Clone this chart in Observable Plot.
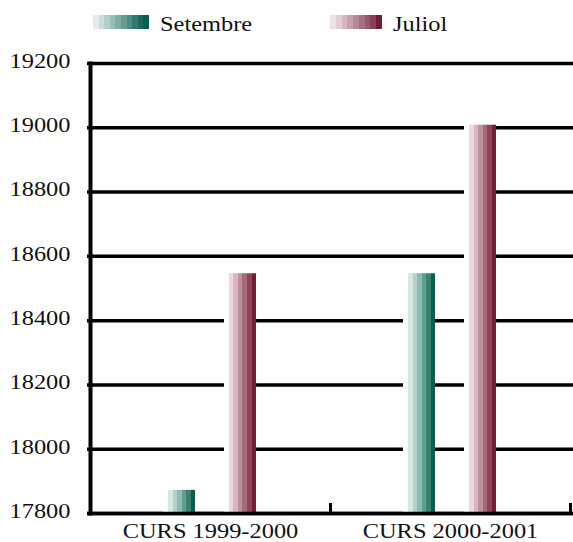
<!DOCTYPE html>
<html>
<head>
<meta charset="utf-8">
<script src="https://cdn.jsdelivr.net/npm/d3@7"></script>
<script src="https://cdn.jsdelivr.net/npm/@observablehq/plot@0.6"></script>
<style>
  html, body { margin: 0; padding: 0; background: #fff; }
  #legend { position: relative; width: 573px; height: 36px; font-family: "Liberation Serif", serif; font-size: 20px; color: #111; }
  .sw { position: absolute; top: 15px; height: 14px; }
  .lt { position: absolute; top: 14px; line-height: 20px; transform: scaleX(1.22); transform-origin: left center; white-space: nowrap; }
</style>
</head>
<body>
<div id="legend"></div>
<div id="chart"></div>
<script>
const categories = ["CURS 1999-2000", "CURS 2000-2001"];
const series = ["Setembre", "Juliol"];
const setembreValues = [17872, 18546];
const juliolValues = [18546, 19008];
const yTicks = [17800, 18000, 18200, 18400, 18600, 18800, 19000, 19200];
const tealStripes = ["#d6e7e4", "#b1d1cb", "#8ebcb4", "#609d93", "#3b8275", "#065f50"];
const pinkStripes = ["#ecd9de", "#d6b6bf", "#bd909c", "#a56a78", "#8c4459", "#751c37"];
const tealLegend = ["#e2edeb", "#c9dcd8", "#b0cdc8", "#97beb7", "#80ada5", "#679c93", "#4e8b80", "#34796d", "#1b6b5d", "#03604f"];
const pinkLegend = ["#efe2e6", "#e3ccd3", "#d5b6c0", "#c6a0ac", "#b68898", "#a57084", "#945870", "#85405b", "#761a3a"];

const setembre = categories.map((c, i) => ({category: c, series: "Setembre", value: setembreValues[i]}));
const juliol = categories.map((c, i) => ({category: c, series: "Juliol", value: juliolValues[i]}));

function steppedCss(colors) {
  const n = colors.length;
  return "linear-gradient(to right," + colors.map((c, i) => `${c} ${(i / n * 100).toFixed(2)}%, ${c} ${((i + 1) / n * 100).toFixed(2)}%`).join(",") + ")";
}

// legend
const legend = document.getElementById("legend");
legend.innerHTML = `
  <div class="sw" style="left:93px;width:56px;background:${steppedCss(tealLegend)}"></div>
  <div class="lt" style="left:160px">${series[0]}</div>
  <div class="sw" style="left:330px;width:52px;background:${steppedCss(pinkLegend)}"></div>
  <div class="lt" style="left:393px">${series[1]}</div>`;

const W = 573, H = 506;
const chart = Plot.plot({
  width: W,
  height: H,
  marginLeft: 90,
  marginRight: 3,
  marginTop: 27,
  marginBottom: 29,
  style: {fontFamily: "Liberation Serif", fontSize: "20px", color: "#111", background: "#fff"},
  x: {domain: categories, padding: 0},
  y: {domain: [17800, 19200]},
  marks: [
    Plot.ruleY(yTicks, {stroke: "#000", strokeWidth: 3.5, insetLeft: -3, insetRight: -3}),
    // white backdrops behind bars (gap in gridlines)
    Plot.barY(setembre, {x: "category", y1: 17800, y2: "value", fill: "#fff", insetLeft: 73, insetRight: 135}),
    Plot.barY(juliol, {x: "category", y1: 17800, y2: "value", fill: "#fff", insetLeft: 134, insetRight: 74}),
    Plot.barY(setembre, {x: "category", y1: 17800, y2: "value", fill: "url(#tealGrad)", insetLeft: 78, insetRight: 135}),
    Plot.barY(juliol, {x: "category", y1: 17800, y2: "value", fill: "url(#pinkGrad)", insetLeft: 139, insetRight: 74}),
    Plot.ruleY([17800], {stroke: "#000", strokeWidth: 3.5, insetLeft: -3, insetRight: -3}),
    Plot.frame({anchor: "left", stroke: "#000", strokeWidth: 4}),
    Plot.tickX(categories, {x: d => d, dx: 120, insetTop: 440, stroke: "#000", strokeWidth: 3}),
    Plot.axisY({ticks: yTicks, tickSize: 0, tickPadding: 20, tickFormat: d => String(d), fontSize: 20, dy: -2, label: null}),
    Plot.axisX({tickSize: 0, tickPadding: 10, fontSize: 20, label: null})
  ]
});

// stepped gradients for bars
function addGradient(svg, id, colors) {
  const ns = "http://www.w3.org/2000/svg";
  let defs = svg.querySelector("defs");
  if (!defs) { defs = document.createElementNS(ns, "defs"); svg.insertBefore(defs, svg.firstChild); }
  const g = document.createElementNS(ns, "linearGradient");
  g.setAttribute("id", id);
  g.setAttribute("x1", "0"); g.setAttribute("x2", "1"); g.setAttribute("y1", "0"); g.setAttribute("y2", "0");
  const n = colors.length;
  colors.forEach((c, i) => {
    for (const off of [i / n, (i + 1) / n]) {
      const s = document.createElementNS(ns, "stop");
      s.setAttribute("offset", off);
      s.setAttribute("stop-color", c);
      g.appendChild(s);
    }
  });
  defs.appendChild(g);
}
addGradient(chart, "tealGrad", tealStripes);
addGradient(chart, "pinkGrad", pinkStripes);

document.getElementById("chart").appendChild(chart);

// horizontally stretch the serif labels like the reference
chart.querySelectorAll("g[aria-label$='tick label'] text").forEach(t => {
  const len = t.getComputedTextLength();
  t.setAttribute("textLength", (len * 1.22).toFixed(1));
  t.setAttribute("lengthAdjust", "spacingAndGlyphs");
});
</script>
</body>
</html>
